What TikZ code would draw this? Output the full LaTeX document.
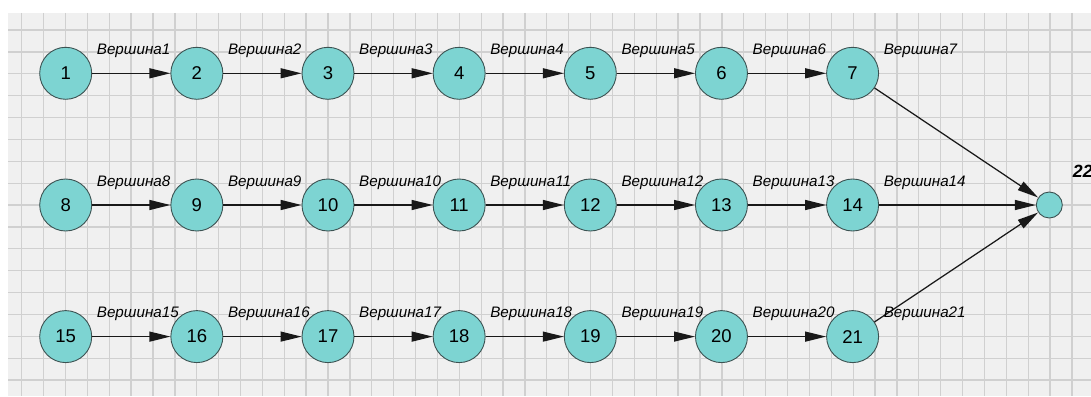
\documentclass[tikz,border=0pt]{standalone}
\usepackage{fontspec}
\setmainfont{Liberation Sans}
\usetikzlibrary{arrows.meta}
\definecolor{nodefill}{RGB}{125,212,210}
\definecolor{nodeline}{RGB}{60,82,82}
\definecolor{edgecol}{RGB}{25,25,25}
\definecolor{gridbg}{RGB}{240,240,240}
\definecolor{gridline}{RGB}{208,208,208}
\begin{document}
\begin{tikzpicture}[x=1pt,y=-1pt,
  vertex/.style={circle,draw=nodeline,fill=nodefill,line width=0.9pt,minimum size=52pt,inner sep=0pt,font=\fontsize{18.5}{20}\selectfont},
  smallvertex/.style={circle,draw=nodeline,fill=nodefill,line width=0.9pt,minimum size=26pt,inner sep=0pt},
  vlabel/.style={anchor=base west,inner sep=0pt,font=\fontsize{15.2}{17}\selectfont\itshape},
  biglabel/.style={anchor=base west,inner sep=0pt,font=\fontsize{17.7}{19}\selectfont\bfseries\itshape},
  edgeline/.style={draw=edgecol,line width=1.25pt,-{Triangle[length=21pt,width=10pt]}},
  gridl/.style={draw=gridline,line width=1.3pt}
]
\useasboundingbox (0,0) rectangle (1091,396);
\fill[gridbg] (8,13) rectangle (1091,396);
\foreach \i in {0,...,48} \draw[gridl] ({21.7+21.88*\i},13) -- ({21.7+21.88*\i},396);
\foreach \j in {0,...,16} \draw[gridl] (8,{30+21.88*\j}) -- (1091,{30+21.88*\j});
\foreach \r/\yy in {0/73.3,1/205,2/336.6}{
  \foreach \c in {0,...,6}{
    \pgfmathtruncatemacro{\n}{7*\r+\c+1}
    \node[vertex] (n\n) at ({65.7+131.15*\c},\yy) {\n};
  }
}
\node[smallvertex] (n22) at (1049.3,205) {};
\foreach \r in {0,1,2}{
  \foreach \c in {0,...,5}{
    \pgfmathtruncatemacro{\n}{7*\r+\c+1}
    \pgfmathtruncatemacro{\m}{7*\r+\c+2}
    \draw[edgeline] (n\n) -- (n\m);
  }
}
\draw[edgeline] (n7) -- (n22);
\draw[edgeline] (n14) -- (n22);
\draw[edgeline] (n21) -- (n22);
\foreach \n in {1,...,21}{
  \node[vlabel] (l\n) at ([xshift=31pt,yshift=19pt]n\n.center) {Вершина\n};
}
\node[biglabel] (l22) at ([xshift=23.4pt,yshift=27.3pt]n22.center) {22};
\end{tikzpicture}
\end{document}
